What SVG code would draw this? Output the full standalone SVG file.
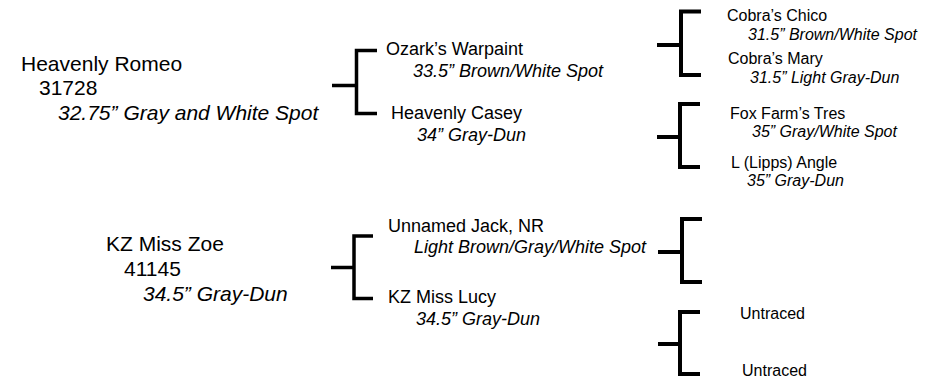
<svg xmlns="http://www.w3.org/2000/svg" width="937" height="379" viewBox="0 0 937 379">
<style>
text{font-family:"Liberation Sans",Arial,sans-serif;fill:#000}
.g1{font-size:21px}
.g2{font-size:18px}
.g3{font-size:16px}
.i{font-style:italic}
.br{fill:none;stroke:#000;stroke-linejoin:miter;stroke-linecap:butt}
.b1{stroke-width:3.5}
.b2{stroke-width:4}
</style>
<rect width="937" height="379" fill="#fff"/>
<g id="connectors">
<path class="br b1" d="M332,85.5H356.5M377,50.5H356.5V113.5H377"/>
<path class="br b1" d="M331,267.5H354M373,236H354V298.5H373"/>
<path class="br b2" d="M657,45H681M701,11.5H681V75H701"/>
<path class="br b2" d="M657,137H680M700,104H680V167H700"/>
<path class="br b2" d="M658,252H682M702,219H682V282H702"/>
<path class="br b2" d="M658,344H680M700,312H680V374H700"/>
</g>
<g id="heavenly-romeo">
<text class="g1" x="21" y="71">Heavenly Romeo</text>
<text class="g1" x="39" y="95">31728</text>
<text class="g1 i" x="58" y="120">32.75” Gray and White Spot</text>
</g>
<g id="kz-miss-zoe">
<text class="g1" x="106" y="251">KZ Miss Zoe</text>
<text class="g1" x="124" y="276">41145</text>
<text class="g1 i" x="143" y="301">34.5” Gray-Dun</text>
</g>
<g id="ozarks-warpaint">
<text class="g2" x="386" y="55">Ozark’s Warpaint</text>
<text class="g2 i" x="413" y="77">33.5” Brown/White Spot</text>
</g>
<g id="heavenly-casey">
<text class="g2" x="391" y="119">Heavenly Casey</text>
<text class="g2 i" x="417" y="141">34” Gray-Dun</text>
</g>
<g id="unnamed-jack">
<text class="g2" x="388" y="232">Unnamed Jack, NR</text>
<text class="g2 i" x="414" y="253">Light Brown/Gray/White Spot</text>
</g>
<g id="kz-miss-lucy">
<text class="g2" x="388" y="303">KZ Miss Lucy</text>
<text class="g2 i" x="416" y="325">34.5” Gray-Dun</text>
</g>
<g id="cobras-chico">
<text class="g3" x="727" y="21">Cobra’s Chico</text>
<text class="g3 i" x="748" y="40">31.5” Brown/White Spot</text>
</g>
<g id="cobras-mary">
<text class="g3" x="728" y="64">Cobra’s Mary</text>
<text class="g3 i" x="750" y="83">31.5” Light Gray-Dun</text>
</g>
<g id="fox-farms-tres">
<text class="g3" x="730" y="119">Fox Farm’s Tres</text>
<text class="g3 i" x="752" y="137">35” Gray/White Spot</text>
</g>
<g id="lipps-angle">
<text class="g3" x="731" y="168">L (Lipps) Angle</text>
<text class="g3 i" x="747" y="186">35” Gray-Dun</text>
</g>
<g id="untraced-1">
<text class="g3" x="740" y="319">Untraced</text>
</g>
<g id="untraced-2">
<text class="g3" x="742" y="376">Untraced</text>
</g>
</svg>
